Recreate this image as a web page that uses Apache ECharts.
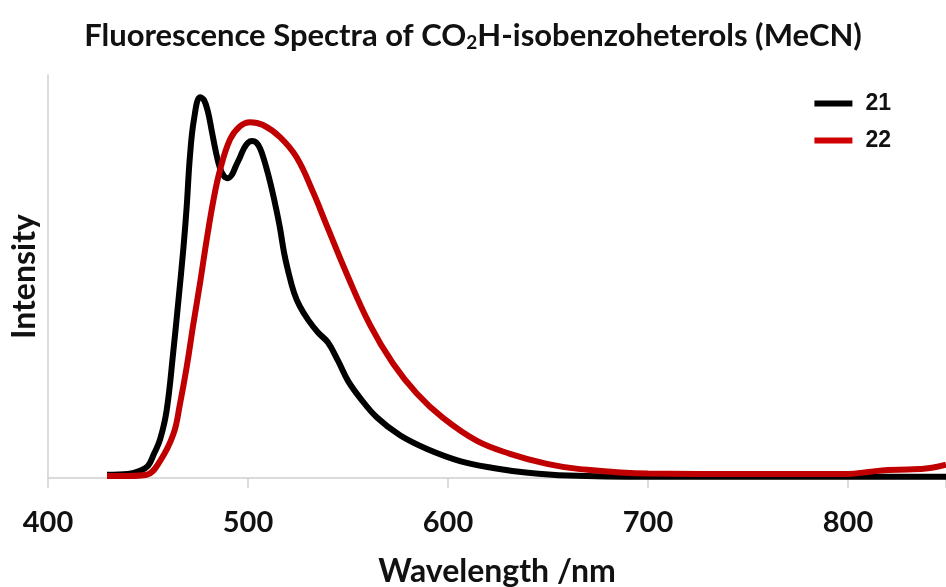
<!DOCTYPE html>
<html>
<head>
<meta charset="utf-8">
<script src="https://cdn.jsdelivr.net/npm/echarts@6/dist/echarts.min.js"></script>
<style>html,body{margin:0;padding:0;background:#fff;}#c{width:946px;height:587px;}</style>
</head>
<body>
<div id="c"></div>
<script>
var seriesNames = ['21', '22'];
var wl21 = [429.5,440,446,450,453,456,459.3,462.7,465.2,467.7,469.3,471,473,476,478,480,482,484,486,488,490,492,494,496,498,500,502,504,506,508,510,512,514,516,518,520,523,526,530,535,540,545,550,556,564.5,576,589.5,606,622.5,640,660,700,849];
var int21 = [0.8,1.0,1.8,3.0,6,9.5,16.7,31.6,44,57,67,80,89,94.5,93.8,90.8,85.8,80.8,76.9,74.9,74.4,75.3,77.5,79.6,81.8,83.2,83.6,83.3,81.8,79,75.5,71.5,67,62,56,51.5,46,42.5,39.3,36.1,33.6,29.1,24.1,19.9,15.0,10.6,7.2,4.2,2.5,1.3,0.6,0.3,0.3];
var wl22 = [429.5,440,449.3,456,462.7,466,469.3,472.7,476,479.3,482.7,486,491,496,501,507.5,516,524.3,532.5,539.5,549.5,561,572.5,584.5,597.5,614.5,631,649.5,666,700,750,800,810,820,830,840,849];
var int22 = [0.5,0.5,0.8,4.2,10.9,18.4,27.4,38.3,48.3,59,68.9,76.4,84.0,87.3,88.3,87.6,84.6,79.6,71,62.5,50.5,38,28.4,20.9,14.9,9.2,6.0,3.5,2.2,1.1,1.0,1.0,1.5,2.0,2.1,2.4,3.3];
var xTicks = [400, 500, 600, 700, 800];

function pairs(x, y) { return x.map(function (v, i) { return [v, y[i]]; }); }

var chart = echarts.init(document.getElementById('c'));
var font = 'Lato, "Open Sans", sans-serif';
chart.setOption({
  animation: false,
  backgroundColor: '#ffffff',
  title: {
    text: '{a|Fluorescence Spectra of CO}{s|2}{a|H-isobenzoheterols (MeCN)}',
    left: 'center',
    top: 14,
    textStyle: {
      rich: {
        a: { fontFamily: font, fontWeight: 'bold', fontSize: 31, color: '#111' },
        s: { fontFamily: font, fontWeight: 'bold', fontSize: 19, color: '#111', verticalAlign: 'bottom', padding: [14, 0, 0, 0] }
      }
    }
  },
  legend: {
    orient: 'vertical',
    right: 50,
    top: 87,
    itemWidth: 38,
    itemHeight: 6,
    itemGap: 14,
    icon: 'rect',
    textStyle: { fontFamily: '"Liberation Sans", Arial, sans-serif', fontWeight: 'bold', fontSize: 23, color: '#111', padding: [0, 0, 0, 8] },
    data: seriesNames
  },
  grid: { left: 48, right: 0, top: 75, bottom: 109, containLabel: false, outerBoundsMode: 'none' },
  xAxis: {
    type: 'value',
    min: 400,
    max: 849,
    interval: 100,
    name: 'Wavelength /nm',
    nameLocation: 'middle',
    nameGap: 78,
    nameTextStyle: { fontFamily: font, fontWeight: 'bold', fontSize: 32, color: '#111' },
    axisLine: { show: true, lineStyle: { color: '#d0d0d0', width: 1.5 } },
    axisTick: { show: true, length: 10, lineStyle: { color: '#d0d0d0', width: 1.5 } },
    axisLabel: {
      fontFamily: font, fontWeight: 'bold', fontSize: 29, color: '#111', margin: 30,
      formatter: function (v) { return xTicks.indexOf(v) >= 0 ? String(v) : ''; }
    },
    splitLine: { show: false }
  },
  yAxis: {
    type: 'value',
    min: 0,
    max: 100,
    name: 'Intensity',
    nameLocation: 'middle',
    nameGap: 7,
    nameRotate: 90,
    nameTextStyle: { fontFamily: font, fontWeight: 'bold', fontSize: 32, color: '#111' },
    axisLine: { show: true, lineStyle: { color: '#d0d0d0', width: 1.5 } },
    axisTick: { show: false },
    axisLabel: { show: false },
    splitLine: { show: false }
  },
  series: [
    {
      name: seriesNames[0], type: 'line', data: pairs(wl21, int21), showSymbol: false, symbol: 'none',
      smooth: 0.4, lineStyle: { color: '#000000', width: 6 }, itemStyle: { color: '#000000' }, z: 2
    },
    {
      name: seriesNames[1], type: 'line', data: pairs(wl22, int22), showSymbol: false, symbol: 'none',
      smooth: 0.4, lineStyle: { color: '#c00000', width: 6 }, itemStyle: { color: '#d00000' }, z: 3
    }
  ]
});
</script>
</body>
</html>
